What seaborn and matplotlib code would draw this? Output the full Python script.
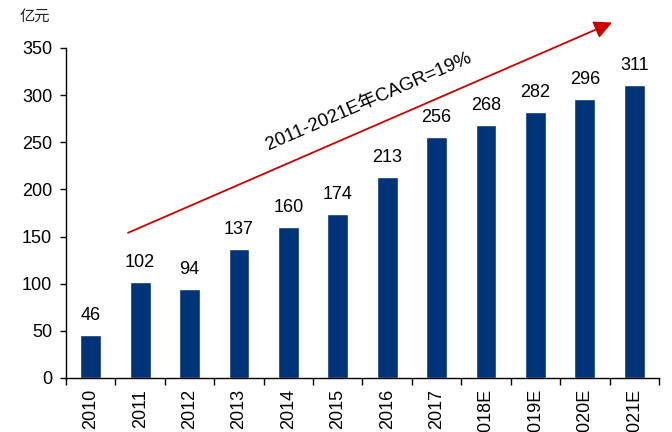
import matplotlib
matplotlib.use("Agg")
import matplotlib.pyplot as plt
import seaborn as sns
import pandas as pd

years = ["2010", "2011", "2012", "2013", "2014", "2015", "2016", "2017",
         "2018E", "2019E", "2020E", "2021E"]
values = [46, 102, 94, 137, 160, 174, 213, 256, 268, 282, 296, 311]
yticks = [0, 50, 100, 150, 200, 250, 300, 350]
unit_label = "亿元"
cagr_label = "2011-2021E年CAGR=19%"

sns.set_theme(style="white")
plt.rcParams["font.family"] = ["Liberation Sans", "Noto Sans CJK SC", "DejaVu Sans"]
plt.rcParams["text.color"] = "black"
plt.rcParams["xtick.color"] = "black"
plt.rcParams["ytick.color"] = "black"

df = pd.DataFrame({"year": years, "value": values})

fig = plt.figure(figsize=(6.72, 4.32), dpi=100)
ax = fig.add_axes([66/672, 1 - 378/432, (659 - 66)/672, (378 - 48)/432])

sns.barplot(data=df, x="year", y="value", color="#003479", width=0.42,
            saturation=1, ax=ax)

ax.set_xlim(-0.5, len(years) - 0.5)
ax.set_ylim(0, 350)
ax.set_yticks(yticks)
ax.set_yticklabels([str(t) for t in yticks], fontsize=13, color="black")
ax.set_xlabel("")
ax.set_ylabel("")

# category boundary ticks
ax.set_xticks([i - 0.5 for i in range(len(years) + 1)], minor=True)
ax.tick_params(axis="x", which="minor", direction="out", length=5, width=1, color="black", bottom=True)
ax.tick_params(axis="x", which="major", length=0, pad=8)
ax.set_xticks(range(len(years)))
ax.set_xticklabels(years, rotation=90, fontsize=13, va="top", ha="center", color="black")
ax.tick_params(axis="y", direction="out", length=4, width=1, color="black", left=True, pad=6)

for s in ["top", "right"]:
    ax.spines[s].set_visible(False)
for s in ["left", "bottom"]:
    ax.spines[s].set_color("black")
    ax.spines[s].set_linewidth(1)

for c in ax.containers:
    ax.bar_label(c, labels=[str(v) for v in values], padding=8, fontsize=13, color="black")

fig.text(20/672, 1 - 16/432, unit_label, fontsize=11, va="center", ha="left",
         color="#222222", family=["Noto Sans CJK SC", "DejaVu Sans"])

ax.annotate("", xy=(10.55, 377), xytext=(0.755, 154),
            xycoords="data", textcoords="data", annotation_clip=False,
            arrowprops=dict(arrowstyle="-|>,head_length=0.9,head_width=0.45",
                            color="#CC0000", lw=1.3, shrinkA=0, shrinkB=0))
ax.text(5.62, 293, cagr_label, rotation=23.5, rotation_mode="anchor",
        ha="center", va="center", fontsize=13.5, color="black", clip_on=False)

fig.savefig("out.png", dpi=100)
